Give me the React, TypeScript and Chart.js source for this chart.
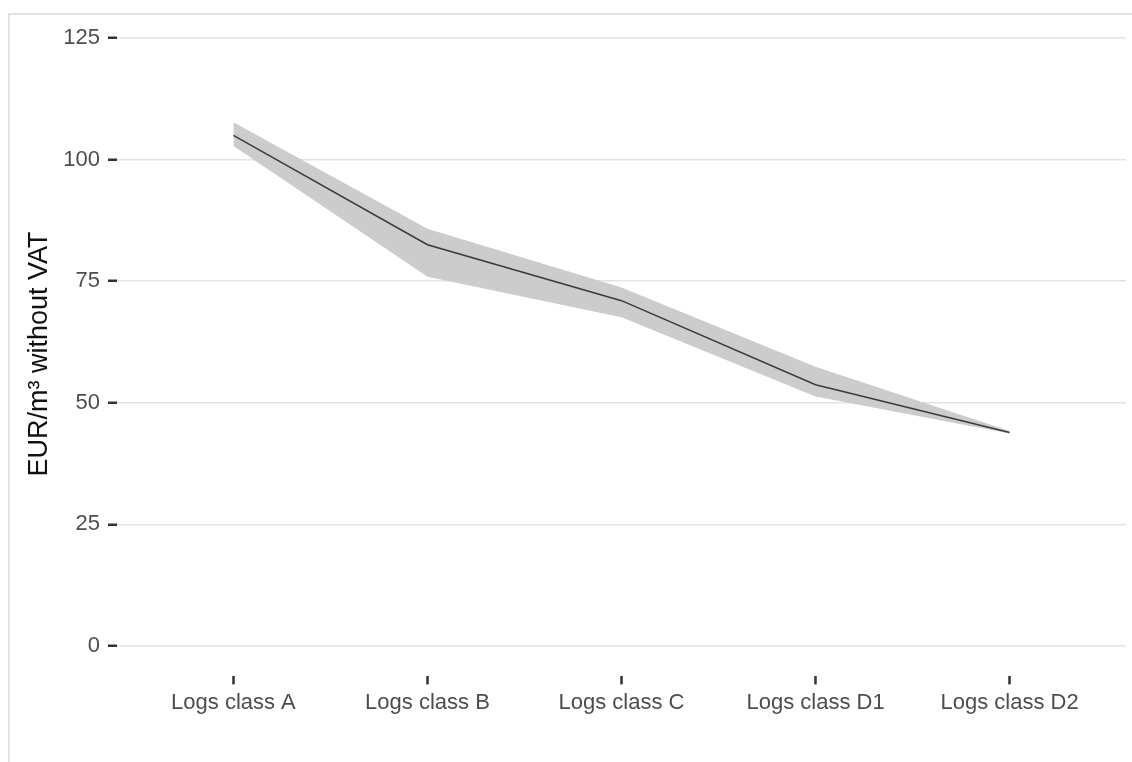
import React, { useEffect, useRef } from "react";
import { Chart, registerables } from "chart.js";

Chart.register(...registerables);

// Log assortment classes along the x axis
const categories: string[] = [
  "Logs class A",
  "Logs class B",
  "Logs class C",
  "Logs class D1",
  "Logs class D2",
];

// Mean price per class (EUR/m³ without VAT)
const meanPrice: number[] = [105.0, 82.5, 71.0, 53.7, 43.9];
// Upper and lower edges of the shaded range
const upperPrice: number[] = [107.7, 85.8, 73.7, 57.4, 44.2];
const lowerPrice: number[] = [102.8, 75.9, 67.6, 51.3, 43.7];

// Y axis tick values
const yTicks: number[] = [0, 25, 50, 75, 100, 125];

const yTitle = "EUR/m³ without VAT";

const FONT = "'Liberation Sans', Arial, sans-serif";

const toPoints = (vals: number[]) => vals.map((v, i) => ({ x: i, y: v }));

const framePlugin = {
  id: "frameAndTitle",
  afterDraw(chart: any) {
    const ctx = chart.ctx as CanvasRenderingContext2D;
    ctx.save();
    // light outer frame along the left and top edges
    ctx.strokeStyle = "#e2e2e2";
    ctx.lineWidth = 2;
    ctx.beginPath();
    ctx.moveTo(9, chart.height);
    ctx.lineTo(9, 14);
    ctx.lineTo(chart.width, 14);
    ctx.stroke();

    // rotated y axis title
    ctx.translate(47, 354);
    ctx.rotate(-Math.PI / 2);
    ctx.fillStyle = "#111111";
    ctx.font = `27px ${FONT}`;
    ctx.textAlign = "center";
    ctx.textBaseline = "alphabetic";
    ctx.fillText(yTitle, 0, 0);
    ctx.restore();
  },
};

export default function App() {
  const canvasRef = useRef<HTMLCanvasElement | null>(null);

  useEffect(() => {
    if (!canvasRef.current) return;
    const chart = new Chart(canvasRef.current, {
      type: "line",
      data: {
        datasets: [
          {
            label: "mean",
            data: toPoints(meanPrice),
            borderColor: "#3a3a3a",
            borderWidth: 1.5,
            pointRadius: 0,
            tension: 0,
            fill: false,
          },
          {
            label: "upper",
            data: toPoints(upperPrice),
            borderWidth: 0,
            borderColor: "rgba(0,0,0,0)",
            backgroundColor: "#cccccc",
            pointRadius: 0,
            tension: 0,
            fill: "+1",
          },
          {
            label: "lower",
            data: toPoints(lowerPrice),
            borderWidth: 0,
            borderColor: "rgba(0,0,0,0)",
            pointRadius: 0,
            tension: 0,
            fill: false,
          },
        ],
      },
      options: {
        animation: false,
        responsive: false,
        devicePixelRatio: 1,
        layout: { padding: { left: 0, right: 6, top: 7.6, bottom: 0 } },
        plugins: {
          legend: { display: false },
          tooltip: { enabled: false },
          title: { display: false },
        },
        scales: {
          x: {
            type: "linear",
            min: -0.6,
            max: 4.6,
            border: { display: false },
            grid: {
              drawOnChartArea: false,
              drawTicks: true,
              tickLength: 8,
              tickWidth: 2.5,
              tickColor: "#333333",
            },
            afterBuildTicks: (axis: any) => {
              axis.ticks = categories.map((_, i) => ({ value: i }));
            },
            afterFit: (axis: any) => {
              axis.height = 85.6;
              axis.paddingLeft = 0;
              axis.paddingRight = 0;
            },
            ticks: {
              padding: 5,
              color: "#4d4d4d",
              font: { family: FONT, size: 22 },
              maxRotation: 0,
              autoSkip: false,
              callback: (v: any) => categories[Number(v)] ?? "",
            },
          },
          y: {
            type: "linear",
            min: -6.25,
            max: 131.25,
            border: { display: false },
            grid: {
              color: "#e3e3e3",
              lineWidth: 1.5,
              drawTicks: true,
              tickLength: 9,
              tickWidth: 2.5,
              tickColor: "#333333",
            },
            afterBuildTicks: (axis: any) => {
              axis.ticks = yTicks.map((v) => ({ value: v }));
            },
            afterFit: (axis: any) => {
              axis.width = 117;
              axis.paddingTop = 0;
              axis.paddingBottom = 0;
            },
            ticks: {
              padding: 8,
              color: "#4d4d4d",
              font: { family: FONT, size: 22 },
              autoSkip: false,
            },
          },
        },
      },
      plugins: [framePlugin],
    });
    return () => chart.destroy();
  }, []);

  return (
    <div
      style={{
        position: "fixed",
        left: 0,
        top: 0,
        width: 1132,
        height: 762,
        background: "#ffffff",
        overflow: "hidden",
      }}
    >
      <canvas ref={canvasRef} width={1132} height={762} />
    </div>
  );
}
